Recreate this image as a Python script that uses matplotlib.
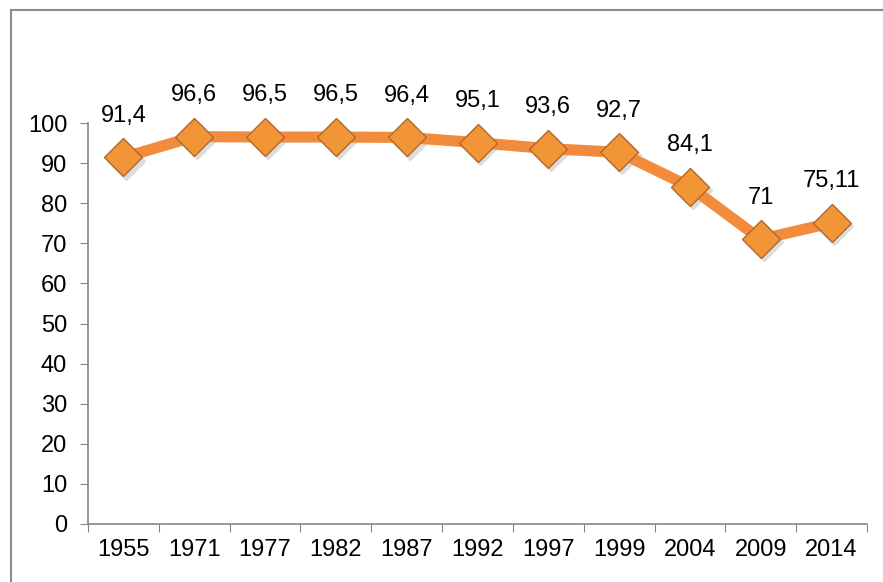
import matplotlib.pyplot as plt
from matplotlib.patches import Rectangle

# data
years = ['1955', '1971', '1977', '1982', '1987', '1992', '1997', '1999', '2004', '2009', '2014']
values = [91.4, 96.6, 96.5, 96.5, 96.4, 95.1, 93.6, 92.7, 84.1, 71, 75.11]
value_labels = ['91,4', '96,6', '96,5', '96,5', '96,4', '95,1', '93,6', '92,7', '84,1', '71', '75,11']

plt.rcParams['font.family'] = ['Liberation Sans', 'DejaVu Sans']

fig = plt.figure(figsize=(8.83, 5.82), dpi=100)
fig.patches.append(Rectangle((11 / 883, -0.1), 1.2, 1 - 10 / 582 + 0.1, transform=fig.transFigure,
                             fill=False, edgecolor='#8c8c8c', linewidth=1.5))

ax = fig.add_axes([88 / 883, 1 - 524 / 582, (867 - 88) / 883, (524 - 123) / 582])
x = list(range(len(years)))

# soft shadow under the markers
ax.plot([i + 0.04 for i in x], [v - 0.8 for v in values], linestyle='none', marker='D',
        markersize=19, color='#dcdcdc', zorder=2)
ax.plot(x, values, color='#f38b3c', linewidth=8, solid_capstyle='butt', zorder=3)
ax.plot(x, values, linestyle='none', marker='D', markersize=19, markerfacecolor='#f29536',
        markeredgecolor='#b0682a', markeredgewidth=1.0, zorder=4)

for i, lab in enumerate(value_labels):
    ax.annotate(lab, (x[i], values[i]), xytext=(0, 22), textcoords='offset points',
                ha='center', va='bottom', fontsize=17)

ax.set_xlim(-0.5, len(years) - 0.5)
ax.set_ylim(0, 100)
ax.set_yticks(range(0, 101, 10))
ax.set_xticks([i - 0.5 for i in range(len(years) + 1)])
ax.set_xticklabels([])
ax.set_xticks(x, minor=True)
ax.set_xticklabels(years, minor=True)
ax.tick_params(axis='x', which='minor', length=0, pad=11, labelsize=17)
ax.tick_params(axis='x', which='major', length=6, color='#868686', direction='out')
ax.tick_params(axis='y', length=6, color='#868686', labelsize=17, pad=9)

for s in ['top', 'right']:
    ax.spines[s].set_visible(False)
for s in ['left', 'bottom']:
    ax.spines[s].set_color('#868686')
    ax.spines[s].set_linewidth(1.2)
for line in ax.lines:
    line.set_clip_on(False)

plt.savefig('out.png', dpi=100)
